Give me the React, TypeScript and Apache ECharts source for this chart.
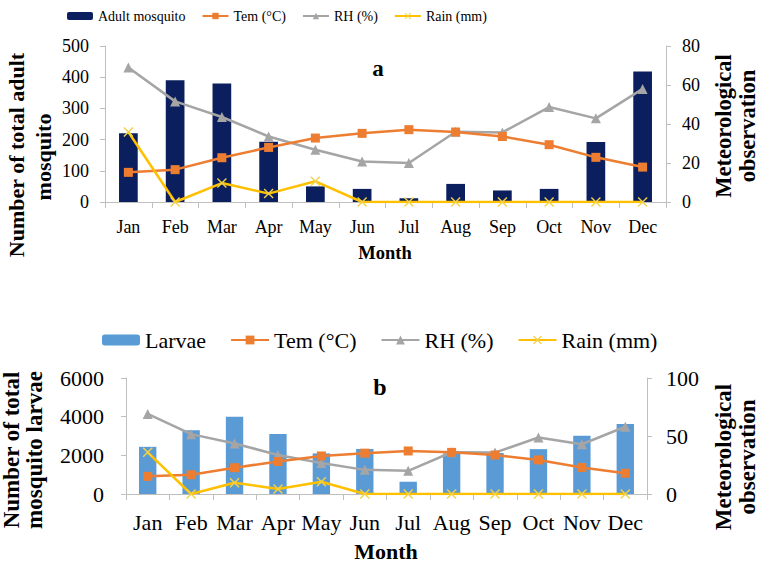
import React, { useEffect, useRef } from "react";
import * as echarts from "echarts";

const months = ["Jan", "Feb", "Mar", "Apr", "May", "Jun", "Jul", "Aug", "Sep", "Oct", "Nov", "Dec"];
const adultMosquito = [220, 390, 380, 193, 50, 42, 12, 58, 37, 42, 192, 418];
const larvae = [2440, 3300, 4000, 3100, 2100, 2330, 635, 2100, 2120, 2320, 3010, 3620];
const temperature = [15.2, 16.6, 22.7, 28, 32.8, 35.2, 37.1, 35.9, 33.6, 29.4, 22.9, 17.9];
const humidity = [69, 51.6, 43.6, 33.6, 26.8, 20.8, 20, 36, 35.7, 48.7, 42.9, 58];
const rainfall = [35.9, 0, 9.7, 4.3, 10.6, 0, 0, 0, 0, 0, 0, 0];
const leftTicksA = [0, 500, 100];
const rightTicksA = [0, 80, 20];
const leftTicksB = [0, 6000, 2000];
const rightTicksB = [0, 100, 50];

const FONT = "Liberation Serif, serif";
const AXIS_GRAY = "#bfbfbf";
const NAVY = "#0b1f5e";
const LIGHTBLUE = "#5b9bd5";
const ORANGE = "#ed7d31";
const GRAY = "#a5a5a5";
const GOLD = "#ffc000";
const XSYM = "path://M0,1L1,0L5,4L9,0L10,1L6,5L10,9L9,10L5,6L1,10L0,9L4,5Z";

function yAxis(gridIndex: number, pos: "left" | "right", t: number[], fs: number, margin: number) {
  return {
    type: "value",
    gridIndex,
    position: pos,
    min: t[0],
    max: t[1],
    interval: t[2],
    splitLine: { show: false },
    axisLine: { show: true, lineStyle: { color: AXIS_GRAY, width: 1 } },
    axisTick: { show: true, length: 5, lineStyle: { color: AXIS_GRAY } },
    axisLabel: {
      color: "#000", fontFamily: FONT, fontSize: fs, margin,
      formatter: (v: number) => String(v),
    },
  };
}

function xAxis(gridIndex: number, fs: number, margin: number) {
  return {
    type: "category",
    gridIndex,
    data: months,
    axisLine: { show: true, lineStyle: { color: AXIS_GRAY, width: 1 } },
    axisTick: { show: true, length: 6, lineStyle: { color: AXIS_GRAY } },
    axisLabel: { color: "#000", fontFamily: FONT, fontSize: fs, margin, interval: 0 },
  };
}

function lines(xi: number, yi: number, sym: number) {
  return [
    {
      name: "Tem (°C)", type: "line", xAxisIndex: xi, yAxisIndex: yi, data: temperature,
      symbol: "rect", symbolSize: sym, lineStyle: { color: ORANGE, width: 2.5 },
      itemStyle: { color: ORANGE }, z: 4,
    },
    {
      name: "RH (%)", type: "line", xAxisIndex: xi, yAxisIndex: yi, data: humidity,
      symbol: "triangle", symbolSize: sym + 1, lineStyle: { color: GRAY, width: 2.5 },
      itemStyle: { color: GRAY }, z: 3,
    },
    {
      name: "Rain (mm)", type: "line", xAxisIndex: xi, yAxisIndex: yi, data: rainfall,
      symbol: XSYM, symbolSize: sym + 1, lineStyle: { color: GOLD, width: 2.5 },
      itemStyle: { color: "#f2d24a" }, z: 5,
    },
  ];
}

function rotText(x: number, y: number, text: string, fs: number) {
  return {
    type: "text", x, y, rotation: Math.PI / 2,
    style: { text, font: `bold ${fs}px ${FONT}`, fill: "#000", align: "center", verticalAlign: "middle" },
  };
}
function plainText(x: number, y: number, text: string, fs: number) {
  return {
    type: "text", x, y,
    style: { text, font: `bold ${fs}px ${FONT}`, fill: "#000", align: "center", verticalAlign: "middle" },
  };
}

export default function App() {
  const ref = useRef<HTMLDivElement>(null);
  useEffect(() => {
    if (!ref.current) return;
    const chart = echarts.init(ref.current, undefined, { renderer: "svg" });
    chart.setOption({
      animation: false,
      backgroundColor: "#fff",
      textStyle: { fontFamily: FONT },
      legend: [
        {
          left: 62, top: 4, itemWidth: 26, itemHeight: 8, itemGap: 16,
          textStyle: { fontFamily: FONT, fontSize: 14, color: "#000" },
          data: ["Adult mosquito", "Tem (°C)", "RH (%)", "Rain (mm)"],
        },
        {
          left: 97, top: 324, itemWidth: 38, itemHeight: 11, itemGap: 24,
          textStyle: { fontFamily: FONT, fontSize: 22, color: "#000" },
          data: ["Larvae", "Tem (°C)", "RH (%)", "Rain (mm)"],
        },
      ],
      grid: [
        { left: 105, right: 92, top: 46, height: 156 },
        { left: 126, right: 111, top: 378, height: 116 },
      ],
      xAxis: [xAxis(0, 18, 16), xAxis(1, 22, 17)],
      yAxis: [
        yAxis(0, "left", leftTicksA, 18, 16),
        yAxis(0, "right", rightTicksA, 18, 16),
        yAxis(1, "left", leftTicksB, 22, 22),
        yAxis(1, "right", rightTicksB, 22, 19),
      ],
      series: [
        {
          name: "Adult mosquito", type: "bar", xAxisIndex: 0, yAxisIndex: 0, data: adultMosquito,
          barWidth: "40%", itemStyle: { color: NAVY }, z: 2,
        },
        ...lines(0, 1, 9),
        {
          name: "Larvae", type: "bar", xAxisIndex: 1, yAxisIndex: 2, data: larvae,
          barWidth: "40%", itemStyle: { color: LIGHTBLUE }, z: 2,
        },
        ...lines(1, 3, 9),
      ],
      graphic: [
        plainText(378, 68, "a", 23),
        plainText(385, 253, "Month", 18.5),
        rotText(16, 155, "Number of total adult", 22),
        rotText(43, 157, "mosquito", 22),
        rotText(723, 126, "Meteorological", 22.5),
        rotText(747, 126, "observation", 22.5),
        plainText(380, 387, "b", 24),
        plainText(386, 551, "Month", 22),
        rotText(11, 450, "Number of total", 23),
        rotText(34, 450, "mosquito larvae", 23),
        rotText(723, 457, "Meteorological", 23),
        rotText(747, 457, "observation", 23),
      ],
    });
    return () => chart.dispose();
  }, []);
  return (
    <div
      ref={ref}
      style={{ position: "absolute", left: 0, top: 0, width: 758, height: 563, background: "#fff" }}
    />
  );
}
